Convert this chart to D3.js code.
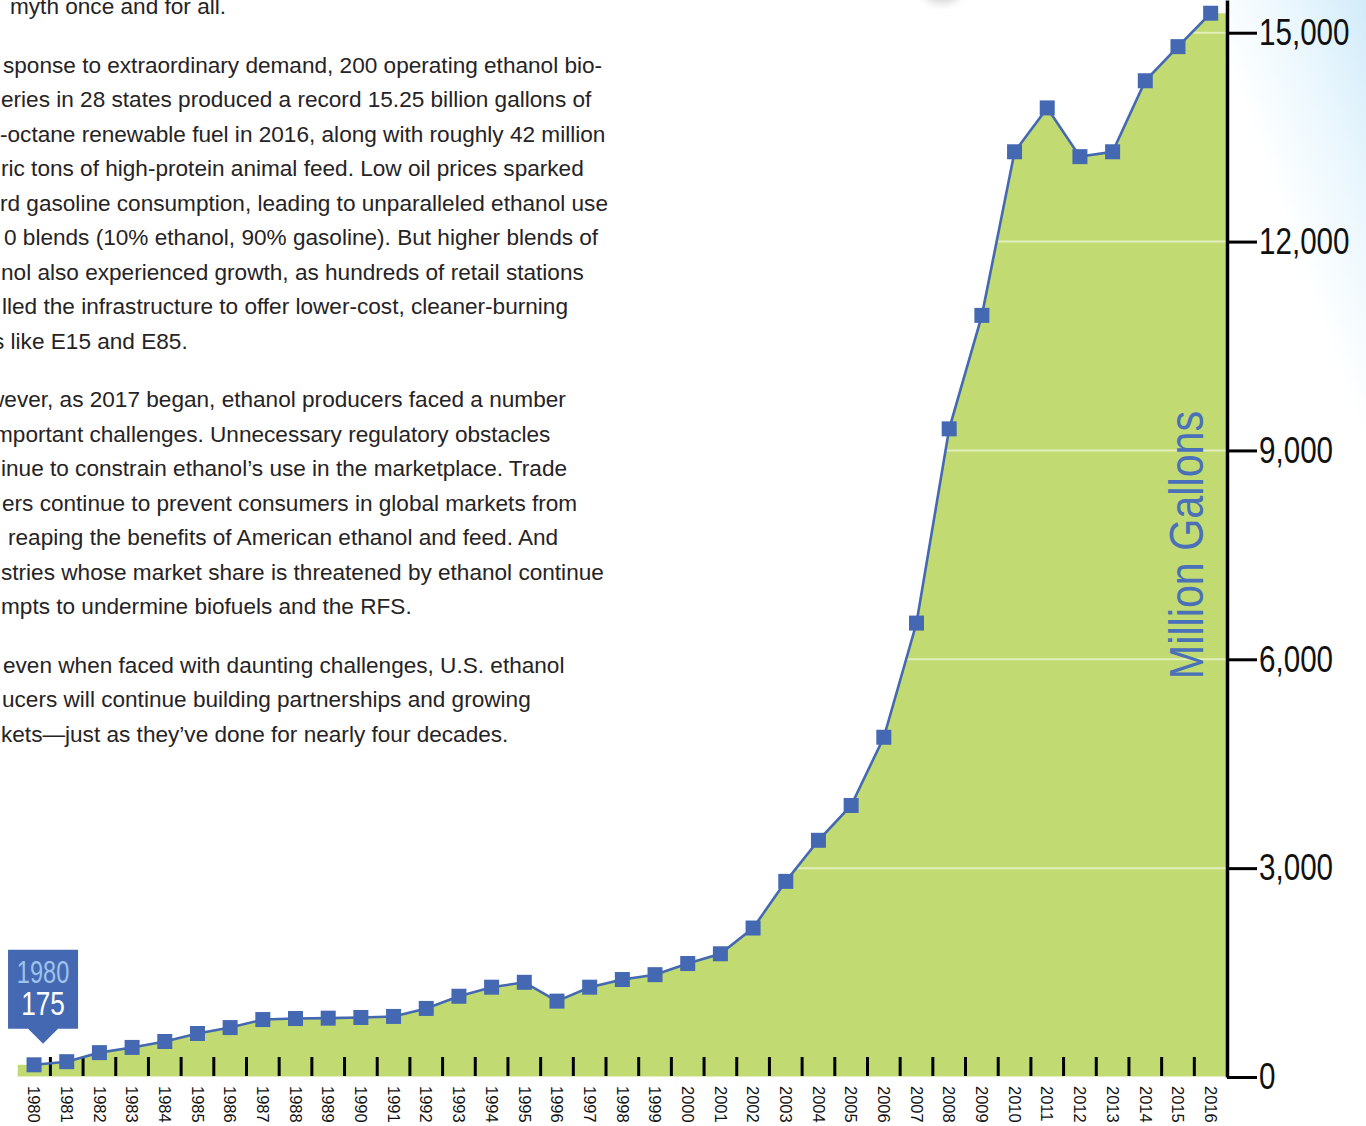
<!DOCTYPE html>
<html>
<head>
<meta charset="utf-8">
<script src="https://cdn.jsdelivr.net/npm/d3@7/dist/d3.min.js"></script>
<style>
  html, body { margin: 0; padding: 0; background: #ffffff; }
  svg { display: block; }
</style>
</head>
<body>
<svg id="chart" width="1366" height="1126"></svg>
<script>
// U.S. ethanol production, million gallons per year
const years = ["1980","1981","1982","1983","1984","1985","1986","1987","1988","1989",
  "1990","1991","1992","1993","1994","1995","1996","1997","1998","1999",
  "2000","2001","2002","2003","2004","2005","2006","2007","2008","2009",
  "2010","2011","2012","2013","2014","2015","2016"];
const gallons = [175, 220, 350, 425, 510, 625, 710, 825, 840, 845,
  855, 870, 985, 1160, 1290, 1360, 1090, 1290, 1400, 1470,
  1630, 1770, 2140, 2810, 3400, 3900, 4880, 6520, 9310, 10940,
  13290, 13920, 13220, 13290, 14310, 14800, 15280];
const yTickValues = [0, 3000, 6000, 9000, 12000, 15000];
const axisTitle = "Million Gallons";

// Body copy beside the chart, one array per paragraph
const para0 = ["myth once and for all."];
const para1 = [
  "sponse to extraordinary demand, 200 operating ethanol bio-",
  "eries in 28 states produced a record 15.25 billion gallons of",
  "-octane renewable fuel in 2016, along with roughly 42 million",
  "ric tons of high-protein animal feed. Low oil prices sparked",
  "rd gasoline consumption, leading to unparalleled ethanol use",
  "0 blends (10% ethanol, 90% gasoline). But higher blends of",
  "nol also experienced growth, as hundreds of retail stations",
  "lled the infrastructure to offer lower-cost, cleaner-burning",
  "s like E15 and E85."
];
const para2 = [
  "wever, as 2017 began, ethanol producers faced a number",
  "mportant challenges. Unnecessary regulatory obstacles",
  "inue to constrain ethanol\u2019s use in the marketplace. Trade",
  "ers continue to prevent consumers in global markets from",
  "reaping the benefits of American ethanol and feed. And",
  "stries whose market share is threatened by ethanol continue",
  "mpts to undermine biofuels and the RFS."
];
const para3 = [
  "even when faced with daunting challenges, U.S. ethanol",
  "ucers will continue building partnerships and growing",
  "kets\u2014just as they\u2019ve done for nearly four decades."
];
const paragraphs = [para0, para1, para2, para3];
// left indents of each line (the column is cropped at the page edge)
const indents = [[10], [3, 1, 0, 1, 0, 4, 1, 2, -7], [-12, -6, 1, 2, 8, 1, 1], [3, 2, 1]];

const GREEN = "#c1da72";
const BLUE = "#4469b2";
const SANS = "'Liberation Sans', Arial, Helvetica, sans-serif";
const SQUEEZE = 0.8;   // horizontal squeeze for the condensed display type

const svg = d3.select("#chart");
const defs = svg.append("defs");

// soft blue wash in the upper-right corner of the page
const wash = defs.append("linearGradient").attr("id", "wash")
  .attr("gradientUnits", "userSpaceOnUse")
  .attr("x1", 1366).attr("y1", 0).attr("x2", 1222).attr("y2", 52);
wash.append("stop").attr("offset", "0").attr("stop-color", "#d2ebf9");
wash.append("stop").attr("offset", "0.45").attr("stop-color", "#e9f6fd");
wash.append("stop").attr("offset", "1").attr("stop-color", "#ffffff");
svg.append("rect").attr("x", 1080).attr("y", 0).attr("width", 286).attr("height", 760)
  .attr("fill", "url(#wash)");

const blur = defs.append("filter").attr("id", "soft").attr("x", "-50%").attr("y", "-50%")
  .attr("width", "200%").attr("height", "200%");
blur.append("feGaussianBlur").attr("stdDeviation", 4);
svg.append("ellipse").attr("cx", 942).attr("cy", -3).attr("rx", 16).attr("ry", 6)
  .attr("fill", "#d4d4d4").attr("filter", "url(#soft)");

// body text
const textG = svg.append("g")
  .attr("font-family", SANS)
  .attr("font-size", 22.6)
  .attr("fill", "#262324");
let lineIndex = 0;
paragraphs.forEach((lines, p) => {
  lines.forEach((t, i) => {
    textG.append("text")
      .attr("x", indents[p][i])
      .attr("y", 14 + lineIndex * 34.5 + p * 24)
      .text(t);
    lineIndex++;
  });
});

// scales
const x = d3.scaleBand().domain(years).range([17.7, 1227]).padding(0);
const cx = yr => x(yr) + x.bandwidth() / 2;
const y = d3.scaleLinear().domain([0, 15470]).range([1077, 0]);

const pts = years.map((yr, i) => ({ x: cx(yr), v: gallons[i] }));
const n = years.length;
const areaPts = [{ x: x(years[0]), v: gallons[0] }, ...pts,
  { x: x(years[n - 1]) + x.bandwidth(), v: gallons[n - 1] }];

const area = d3.area().x(d => d.x).y0(y(0)).y1(d => y(d.v));

defs.append("clipPath").attr("id", "areaClip")
  .append("path").attr("d", area(areaPts));

// filled area
svg.append("path").attr("d", area(areaPts)).attr("fill", GREEN);

// gridlines, visible only on the filled area
svg.append("g").attr("clip-path", "url(#areaClip)")
  .selectAll("line").data(yTickValues).join("line")
  .attr("x1", x.range()[0]).attr("x2", x.range()[1])
  .attr("y1", d => y(d)).attr("y2", d => y(d))
  .attr("stroke", "#e2eebb").attr("stroke-width", 2);

// category ticks at band boundaries
svg.append("g").selectAll("line").data(years.slice(1)).join("line")
  .attr("x1", d => x(d)).attr("x2", d => x(d))
  .attr("y1", y(0) - 20).attr("y2", y(0) - 1)
  .attr("stroke", "#000").attr("stroke-width", 3);

// year labels, rotated
svg.append("g").selectAll("text").data(years).join("text")
  .attr("transform", d => `translate(${cx(d)},1086) rotate(90)`)
  .attr("dy", "0.35em")
  .attr("font-family", SANS)
  .attr("font-size", 16.5)
  .attr("fill", "#111")
  .text(d => d);

// line and square markers
const line = d3.line().x(d => d.x).y(d => y(d.v));
svg.append("path").attr("d", line(pts)).attr("fill", "none")
  .attr("stroke", BLUE).attr("stroke-width", 2.6);
const ms = 15;
svg.append("g").selectAll("rect").data(pts).join("rect")
  .attr("x", d => d.x - ms / 2).attr("y", d => y(d.v) - ms / 2)
  .attr("width", ms).attr("height", ms).attr("fill", BLUE);

// y axis on the right edge of the plot
const tickLen = 30;
const yAxis = d3.axisRight(y).tickValues(yTickValues).tickSize(tickLen).tickSizeOuter(0)
  .tickPadding(2).tickFormat(d3.format(","));
const yG = svg.append("g").attr("transform", `translate(${x.range()[1]},0)`).call(yAxis);
yG.select(".domain").attr("stroke", "#000").attr("stroke-width", 3.5);
yG.selectAll(".tick line").attr("stroke", "#000").attr("stroke-width", 3);
yG.selectAll(".tick text")
  .attr("font-family", SANS).attr("font-size", 37).attr("fill", "#111")
  .attr("x", (tickLen + 2) / SQUEEZE)
  .attr("transform", `scale(${SQUEEZE},1)`);

// axis title
svg.append("text")
  .attr("transform", `translate(1203,545) rotate(-90) scale(0.86,1)`)
  .attr("text-anchor", "middle")
  .attr("font-family", SANS)
  .attr("font-size", 48)
  .attr("fill", "#4a70b9")
  .text(axisTitle);

// callout for the first year
const cX = cx(years[0]) + 9;
const cBottom = y(gallons[0]) - 36;
const callG = svg.append("g");
callG.append("path")
  .attr("d", `M${cX - 35},${cBottom - 79}H${cX + 35}V${cBottom}H${cX + 15}L${cX},${cBottom + 15}L${cX - 15},${cBottom}H${cX - 35}Z`)
  .attr("fill", BLUE);
callG.append("text")
  .attr("transform", `translate(${cX},${cBottom - 46}) scale(0.76,1)`)
  .attr("text-anchor", "middle").attr("font-family", SANS).attr("font-size", 31)
  .attr("fill", "#9ec3ea").text(years[0]);
callG.append("text")
  .attr("transform", `translate(${cX},${cBottom - 14}) scale(0.77,1)`)
  .attr("text-anchor", "middle").attr("font-family", SANS).attr("font-size", 34)
  .attr("fill", "#ffffff").text(d3.format(",")(gallons[0]));
</script>
</body>
</html>
